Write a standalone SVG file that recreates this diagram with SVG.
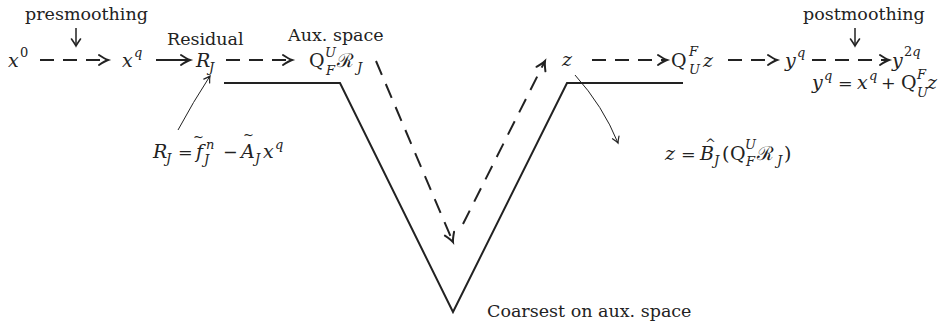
<svg xmlns="http://www.w3.org/2000/svg" width="944" height="326" viewBox="0 0 944 326">
<style>
text{font-family:"DejaVu Serif","Liberation Serif",serif;fill:#222;font-size:17.5px}
.i{font-style:italic;font-size:19px}
.m{font-size:19px}
.s{font-size:13px}
.acc{font-size:13px}
.thick{stroke:#222;stroke-width:2;fill:none}
.dash{stroke:#222;stroke-width:2;fill:none;stroke-dasharray:14 9}
.dashl{stroke:#222;stroke-width:2;fill:none;stroke-dasharray:15 10}
.thin{stroke:#222;stroke-width:1;fill:none}
.med{stroke:#222;stroke-width:1.5;fill:none}
</style>
<defs>
<marker id="ah" markerUnits="userSpaceOnUse" markerWidth="16" markerHeight="16" refX="0" refY="0" viewBox="-12 -8 16 16" orient="auto" overflow="visible">
<path d="M-9,-5 Q-3,-1 0,0 Q-3,1 -9,5" fill="none" stroke="#222" stroke-width="2" stroke-linecap="round"/>
</marker>
<marker id="as" markerUnits="userSpaceOnUse" markerWidth="12" markerHeight="12" refX="0" refY="0" viewBox="-8 -6 12 12" orient="auto" overflow="visible">
<path d="M-6,-3.5 Q-2,-0.8 0,0 Q-2,0.8 -6,3.5" fill="none" stroke="#222" stroke-width="1.2" stroke-linecap="round"/>
</marker>
<marker id="am" markerUnits="userSpaceOnUse" markerWidth="12" markerHeight="12" refX="0" refY="0" viewBox="-8 -6 12 12" orient="auto" overflow="visible">
<path d="M-7,-4.5 Q-2,-1 0,0 Q-2,1 -7,4.5" fill="none" stroke="#222" stroke-width="1.6" stroke-linecap="round"/>
</marker>
</defs>

<g id="vcycle">
<path class="thick" d="M224,83 L340,83 L453,312 L567,83 L683,83"/>
</g>

<g id="connectors">
<line class="dash" x1="40" y1="60" x2="108" y2="60" marker-end="url(#ah)"/>
<line class="thick" x1="156" y1="60" x2="190" y2="60" marker-end="url(#ah)"/>
<line class="dash" x1="226" y1="60" x2="292" y2="60" marker-end="url(#ah)"/>
<line class="dashl" x1="376" y1="61" x2="453" y2="242" marker-end="url(#ah)"/>
<line class="dashl" x1="463" y1="224" x2="545" y2="61" marker-end="url(#ah)"/>
<line class="dash" x1="592" y1="60" x2="667" y2="60" marker-end="url(#ah)"/>
<line class="dash" x1="728" y1="60" x2="777" y2="60" marker-end="url(#ah)"/>
<line class="dash" x1="812" y1="60" x2="889" y2="60" marker-end="url(#ah)"/>
<line class="med" x1="76" y1="28" x2="76" y2="46" marker-end="url(#am)"/>
<line class="med" x1="855" y1="28" x2="855" y2="46" marker-end="url(#am)"/>
<path class="thin" d="M178,130 Q193,102 210,76" marker-end="url(#as)"/>
<path class="thin" d="M575,75 Q603,106 618,143" marker-end="url(#as)"/>
</g>

<g id="presmoothing"><text x="25" y="20">presmoothing</text></g>
<g id="postmoothing"><text x="803" y="20">postmoothing</text></g>
<g id="residual-label"><text x="167" y="45">Residual</text></g>
<g id="aux-label"><text x="288" y="41">Aux. space</text></g>
<g id="coarsest-label"><text x="487" y="317">Coarsest on aux. space</text></g>

<g id="x0"><text class="i" x="8" y="67">x</text><text class="s" x="20" y="57">0</text></g>
<g id="xq"><text class="i" x="122" y="67">x</text><text class="i s" x="134" y="57">q</text></g>
<g id="RJ"><text class="i" x="196" y="67">R</text><text class="i s" x="209" y="72">J</text></g>
<g id="QR"><text class="m" x="309" y="67">Q</text><text class="i s" x="325" y="57">U</text><text class="i s" x="326" y="75">F</text><text class="m" x="337" y="67">ℛ</text><text class="i s" x="357" y="72">J</text></g>
<g id="z"><text class="i" x="562" y="66">z</text></g>
<g id="Qz"><text class="m" x="671" y="67">Q</text><text class="i s" x="689" y="56">F</text><text class="i s" x="689" y="74">U</text><text class="i" x="703" y="67">z</text></g>
<g id="yq"><text class="i" x="785" y="67">y</text><text class="i s" x="797" y="57">q</text></g>
<g id="y2q"><text class="i" x="892" y="67">y</text><text class="s" x="904" y="56">2<tspan class="i s">q</tspan></text></g>
<g id="update-eq"><text class="i" x="812" y="89">y</text><text class="i s" x="824" y="80">q</text><text x="838" y="89">=</text><text class="i" x="857" y="89">x</text><text class="i s" x="869" y="80">q</text><text x="881" y="89">+</text><text class="m" x="901" y="89">Q</text><text class="i s" x="917" y="79">F</text><text class="i s" x="917" y="97">U</text><text class="i" x="927" y="89">z</text></g>

<g id="residual-eq"><text class="i" x="153" y="158">R</text><text class="i s" x="166" y="163">J</text><text x="178" y="158">=</text><text class="i" x="196" y="158">f</text><text class="acc" x="193" y="141">~</text><text class="i s" x="206" y="149">n</text><text class="i s" x="204" y="164">J</text><text x="223" y="158">−</text><text class="i" x="241" y="158">A</text><text class="acc" x="243" y="139">~</text><text class="i s" x="255" y="163">J</text><text class="i" x="263" y="158">x</text><text class="i s" x="275" y="149">q</text></g>

<g id="coarse-eq"><text class="i" x="665" y="160">z</text><text x="681" y="160">=</text><text class="i" x="700" y="160">B</text><text class="acc" x="705" y="148">^</text><text class="i s" x="714" y="165">J</text><text class="m" x="722" y="160">(</text><text class="m" x="730" y="160">Q</text><text class="i s" x="745" y="149">U</text><text class="i s" x="746" y="166">F</text><text class="m" x="757" y="160">ℛ</text><text class="i s" x="777" y="165">J</text><text class="m" x="784" y="160">)</text></g>
</svg>
